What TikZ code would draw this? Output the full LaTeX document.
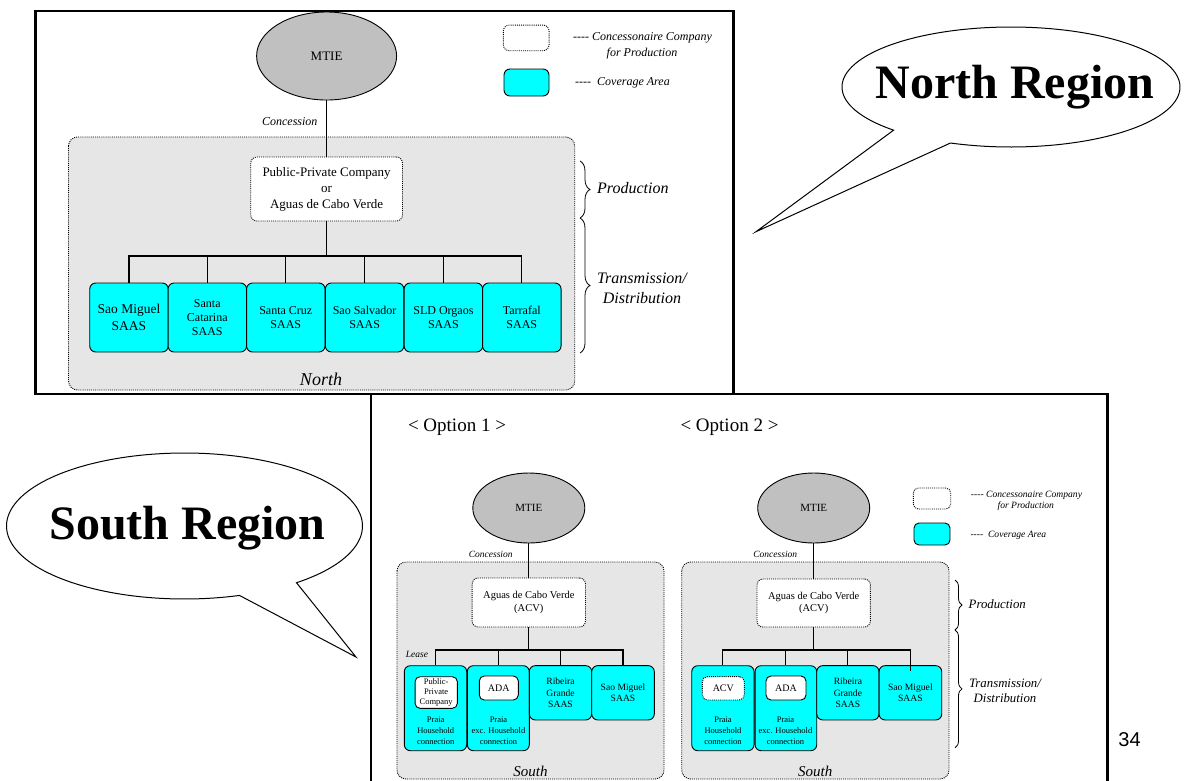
\documentclass[tikz,border=0pt]{standalone}
\usepackage{fontspec}
\setmainfont{Liberation Serif}
\newfontfamily\sansf{Liberation Sans}
\usetikzlibrary{shapes.geometric,decorations.pathreplacing,calc}
\definecolor{cov}{HTML}{00FFFF}
\definecolor{reg}{HTML}{E6E6E6}
\definecolor{mtiegray}{HTML}{C0C0C0}
\newcommand\fourdash{\mbox{-}\mbox{-}\mbox{-}\mbox{-}}
\tikzset{
 fnt/.style 2 args={font=\fontsize{#1}{#2}\selectfont},
 ifnt/.style 2 args={font=\fontsize{#1}{#2}\selectfont\itshape},
 frame/.style={draw=black,line width=2.6pt},
 dots/.style={dash pattern=on 1pt off 1.1pt},
 region/.style={draw=black,dots,fill=reg,rounded corners=9pt,line width=0.9pt},
 conc/.style={draw=black,dots,fill=white,rounded corners=6pt,line width=0.9pt,inner sep=0pt,align=center},
 cover/.style={draw=black,fill=cov,rounded corners=6pt,line width=0.9pt,inner sep=0pt,align=center},
 innerbox/.style={draw=black,fill=white,rounded corners=5pt,line width=0.9pt,inner sep=0pt,align=center},
 ell/.style={ellipse,draw=black,fill=mtiegray,line width=0.9pt,inner sep=0pt},
 link/.style={draw=black,line width=1.1pt},
 brc/.style={decorate,decoration={brace,amplitude=#1},line width=0.8pt},
 lbl/.style={inner sep=0pt,align=center},
 bubble/.style={draw=black,fill=white,line width=1pt,line join=miter},
}
\begin{document}
\begin{tikzpicture}[x=1pt,y=-1pt]
\useasboundingbox (0,0) rectangle (1184,780);
\fill[white] (0,0) rectangle (1184,780);

% ===== frames =====
\draw[frame] (35.5,11) rectangle (733.5,394);
\draw[frame] (371,394) rectangle (1107.5,800);

% ===== NORTH =====
\draw[region] (68.5,137) rectangle (574.7,390);
\node[ell,minimum width=140pt,minimum height=88pt,fnt={13}{15}] (mtieN) at (326.6,56) {MTIE};
\node[conc,minimum width=45.7pt,minimum height=25.7pt] (legCN) at (526.2,37.9) {};
\node[cover,minimum width=45pt,minimum height=27pt] (legAN) at (526.5,82.5) {};
\node[lbl,ifnt={12}{15}] (legCNt1) at (642.5,38.3) {\fourdash{} Concessonaire Company};
\node[lbl,ifnt={12}{15}] (legCNt2) at (642,53.3) {for Production};
\node[lbl,ifnt={12}{15}] (legANt) at (622.5,82.7) {\fourdash\ \ Coverage Area};
\node[lbl,ifnt={12}{14}] (concN) at (289.8,122) {Concession};
\node[conc,minimum width=151.7pt,minimum height=64pt,fnt={13}{16}] (ppc) at (326.6,189) {Public-Private Company\\or\\Aguas de Cabo Verde};
\coordinate (busN) at (326.6,256);
\node[cover,minimum width=78.5pt,minimum height=69pt,fnt={13.5}{17}] (n1) at (129,317.5) {Sao Miguel\\SAAS};
\node[cover,minimum width=78.5pt,minimum height=69pt,fnt={12}{14}] (n2) at (207.3,317.5) {Santa\\Catarina\\SAAS};
\node[cover,minimum width=78.5pt,minimum height=69pt,fnt={12}{14}] (n3) at (285.8,317.5) {Santa Cruz\\SAAS};
\node[cover,minimum width=78.5pt,minimum height=69pt,fnt={12}{14}] (n4) at (364.6,317.5) {Sao Salvador\\SAAS};
\node[cover,minimum width=78.5pt,minimum height=69pt,fnt={12}{14}] (n5) at (443.4,317.5) {SLD Orgaos\\SAAS};
\node[cover,minimum width=78.5pt,minimum height=69pt,fnt={12}{14}] (n6) at (521.8,317.5) {Tarrafal\\SAAS};
\draw[link] (mtieN) -- (ppc);
\draw[link] (ppc) -- (busN);
\draw[link] (n1.north) -- (n1.north |- busN) -- (n6.north |- busN) -- (n6.north);
\foreach \n in {n2,n3,n4,n5} \draw[link] (\n.north) -- (\n.north |- busN);
\node[lbl,ifnt={18}{20}] (northL) at (321,379) {North};
\draw[brc=10pt] (580,161) -- (580,218);
\draw[brc=10pt] (580,218) -- (580,353);
\node[lbl,ifnt={16}{20},anchor=west] (prodN) at (597,188) {Production};
\node[lbl,ifnt={16}{20}] (tdN) at (642,288) {Transmission/\\Distribution};

% ===== callouts =====
\draw[bubble] plot[domain=134:471,samples=160] ({1011+169*cos(\x)},{87+60*sin(\x)}) -- (756,231.7) -- cycle;
\node[lbl,font=\fontsize{48}{52}\selectfont\bfseries] (northR) at (1015,87) {North Region};
\draw[bubble] plot[domain=72:411,samples=160] ({184.5+178*cos(\x)},{526+73*sin(\x)}) -- (356,657) -- cycle;
\node[lbl,font=\fontsize{48}{52}\selectfont\bfseries] (southR) at (187.5,528) {South Region};

% ===== SOUTH option 1 =====
\node[lbl,fnt={19}{22}] (opt1) at (457,427) {< Option 1 >};
\draw[region] (397,562) rectangle (664,779);
\node[ell,minimum width=112pt,minimum height=70pt,fnt={11}{13}] (mtie1) at (528.8,508) {MTIE};
\node[lbl,ifnt={9.5}{11}] (conc1) at (490.7,554) {Concession};
\node[conc,minimum width=113.3pt,minimum height=49pt,fnt={10.5}{12.5}] (acv1) at (528.8,602.5) {Aguas de Cabo Verde\\(ACV)};
\coordinate (bus1) at (528.8,650);
\node[cover,minimum width=62.4pt,minimum height=85pt] (p1) at (435.5,708.2) {};
\node[cover,minimum width=62pt,minimum height=85pt] (p2) at (498.3,708.2) {};
\node[cover,minimum width=62.4pt,minimum height=54.3pt,fnt={9.6}{11.3}] (p3) at (560.5,692.8) {Ribeira\\Grande\\SAAS};
\node[cover,minimum width=62.6pt,minimum height=54.3pt,fnt={9.6}{11.7}] (p4) at (623,692.8) {Sao Miguel\\SAAS};
\node[innerbox,minimum width=42.3pt,minimum height=31.6pt,fnt={8.5}{10}] (ppc1) at (436.2,692.5) {Public-\\Private\\Company};
\node[innerbox,minimum width=39pt,minimum height=24pt,fnt={10}{12}] (ada1) at (498.8,688) {ADA};
\node[lbl,fnt={8.5}{10.8}] (p1t) at (435.7,731) {Praia\\Household\\connection};
\node[lbl,fnt={8.5}{10.8}] (p2t) at (498.5,731) {Praia\\exc. Household\\connection};
\node[lbl,ifnt={9.5}{11}] (lease) at (417,654) {Lease};
\node[lbl,ifnt={15}{17}] (south1) at (530.5,771) {South};
\draw[link] (mtie1) -- (acv1);
\draw[link] (acv1) -- (bus1);
\draw[link] (p1.north) -- (p1.north |- bus1) -- (p4.north |- bus1) -- (p4.north);
\foreach \n in {p2,p3} \draw[link] (\n.north) -- (\n.north |- bus1);

% ===== SOUTH option 2 =====
\node[lbl,fnt={19}{22}] (opt2) at (729.5,427) {< Option 2 >};
\draw[region] (681.7,562) rectangle (949,779);
\node[ell,minimum width=112pt,minimum height=70pt,fnt={11}{13}] (mtie2) at (813.7,508) {MTIE};
\node[lbl,ifnt={9.5}{11}] (conc2) at (775.3,554) {Concession};
\node[conc,minimum width=113.4pt,minimum height=48pt,fnt={10.5}{12.5}] (acv2) at (813.7,603) {Aguas de Cabo Verde\\(ACV)};
\coordinate (bus2) at (813.7,650);
\node[cover,minimum width=62.3pt,minimum height=85pt] (c1) at (722.9,708.2) {};
\node[cover,minimum width=61.7pt,minimum height=85pt] (c2) at (785.9,708.2) {};
\node[cover,minimum width=62.3pt,minimum height=54.3pt,fnt={9.6}{11.3}] (c3) at (847.9,692.8) {Ribeira\\Grande\\SAAS};
\node[cover,minimum width=62.7pt,minimum height=54.3pt,fnt={9.6}{11.7}] (c4) at (910.4,692.8) {Sao Miguel\\SAAS};
\node[conc,rounded corners=5pt,minimum width=42pt,minimum height=23.3pt,fnt={10}{12}] (acvin) at (723.3,688.3) {ACV};
\node[innerbox,minimum width=40pt,minimum height=24pt,fnt={10}{12}] (ada2) at (786,688) {ADA};
\node[lbl,fnt={8.5}{10.8}] (c1t) at (723,731) {Praia\\Household\\connection};
\node[lbl,fnt={8.5}{10.8}] (c2t) at (785.5,731) {Praia\\exc. Household\\connection};
\node[lbl,ifnt={15}{17}] (south2) at (815.3,771) {South};
\draw[link] (mtie2) -- (acv2);
\draw[link] (acv2) -- (bus2);
\draw[link] (c1.north) -- (c1.north |- bus2) -- (c4.north |- bus2) -- ($(c4.north)+(0,6)$);
\foreach \n in {c2,c3} \draw[link] (\n.north) -- (\n.north |- bus2);
% legend 2
\node[conc,rounded corners=5pt,minimum width=37.4pt,minimum height=21pt] (legC2) at (932,498.5) {};
\node[cover,rounded corners=5pt,minimum width=36pt,minimum height=22pt] (legA2) at (932,534) {};
\node[lbl,ifnt={9.6}{12}] (legC2t1) at (1026.5,495) {\fourdash{} Concessonaire Company};
\node[lbl,ifnt={9.6}{12}] (legC2t2) at (1025.8,506) {for Production};
\node[lbl,ifnt={9.6}{12}] (legA2t) at (1008.3,535) {\fourdash\ \ Coverage Area};
% braces 2
\draw[brc=7pt] (955,580) -- (955,630);
\draw[brc=7pt] (955,630) -- (955,747.7);
\node[lbl,ifnt={12.8}{15},anchor=west] (prod2) at (968.5,604) {Production};
\node[lbl,ifnt={12.8}{14.6}] (td2) at (1005,691) {Transmission/\\Distribution};

% page number
\node[lbl,font=\sansf\fontsize{20}{22}\selectfont] (pg) at (1129.6,740) {34};
\end{tikzpicture}
\end{document}
